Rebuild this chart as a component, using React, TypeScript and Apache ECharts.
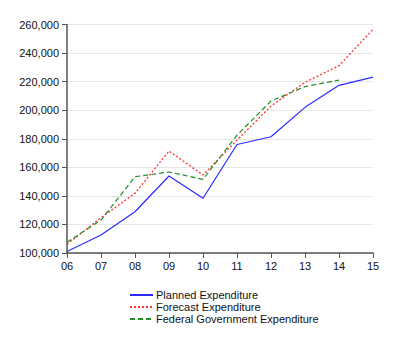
import React, { useEffect, useRef } from "react";
import * as echarts from "echarts";

const categories = ["06", "07", "08", "09", "10", "11", "12", "13", "14", "15"];
const planned = [101000, 112600, 128900, 153900, 138300, 176000, 181400, 202000, 217400, 223200];
const forecast = [106100, 124700, 141800, 171400, 154600, 179000, 202900, 219500, 231200, 256600];
const federal = [107500, 123100, 153400, 156700, 151600, 182500, 206400, 216500, 221100, null];

export default function App() {
  const ref = useRef<HTMLDivElement>(null);
  useEffect(() => {
    if (!ref.current) return;
    const chart = echarts.init(ref.current, undefined, { renderer: "svg" });
    const font = "'Liberation Sans', Arial, sans-serif";
    chart.setOption({
      animation: false,
      textStyle: { fontFamily: font },
      grid: { left: 67, right: 27, top: 24.5, bottom: 97 },
      xAxis: {
        type: "category",
        data: categories,
        boundaryGap: false,
        axisLine: { lineStyle: { color: "#555", width: 1.5 } },
        axisTick: { show: true, alignWithLabel: true, length: 5, lineStyle: { color: "#555" } },
        axisLabel: { color: "#111", fontSize: 11, fontFamily: font, margin: 7 },
        splitLine: { show: false },
      },
      yAxis: {
        type: "value",
        min: 100000,
        max: 260000,
        interval: 20000,
        axisLine: { show: true, lineStyle: { color: "#555", width: 1.5 } },
        axisTick: { show: true, length: 5, lineStyle: { color: "#555" } },
        axisLabel: {
          color: "#111",
          fontSize: 11,
          fontFamily: font,
          margin: 8,
          formatter: (v: number) => v.toLocaleString("en-US"),
        },
        splitLine: { show: true, lineStyle: { color: "#e6e6e6", width: 1 } },
      },
      legend: {
        orient: "vertical",
        left: 124,
        top: 284,
        itemWidth: 23,
        itemHeight: 8,
        itemGap: 0,
        itemStyle: { opacity: 0 },
        textStyle: { color: "#111", fontSize: 11, lineHeight: 12, fontFamily: font, padding: [0, 0, 0, -2] },
        data: ["Planned Expenditure", "Forecast Expenditure", "Federal Government Expenditure"],
      },
      series: [
        {
          name: "Planned Expenditure",
          type: "line",
          data: planned,
          symbol: "none",
          lineStyle: { color: "#2a2aff", width: 1.2, type: "solid" },
          itemStyle: { color: "#2a2aff" },
        },
        {
          name: "Forecast Expenditure",
          type: "line",
          data: forecast,
          symbol: "none",
          lineStyle: { color: "#ff3030", width: 1.3, type: [2, 2] },
          itemStyle: { color: "#ff3030" },
        },
        {
          name: "Federal Government Expenditure",
          type: "line",
          data: federal,
          symbol: "none",
          lineStyle: { color: "#1f8f1f", width: 1.2, type: [5, 3] },
          itemStyle: { color: "#1f8f1f" },
        },
      ],
    });
    return () => chart.dispose();
  }, []);
  return <div ref={ref} style={{ width: 400, height: 350, margin: -8 }} />;
}
